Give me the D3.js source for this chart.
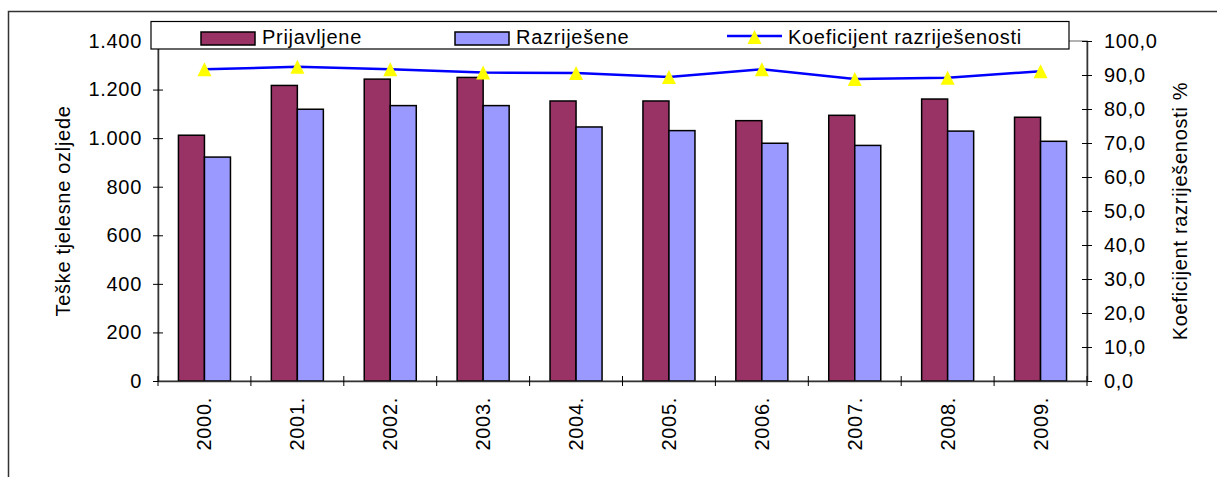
<!DOCTYPE html>
<html>
<head>
<meta charset="utf-8">
<script src="https://cdn.jsdelivr.net/npm/d3@7"></script>
<style>
    html, body { margin: 0; padding: 0; background: #fff; }
    .dc-chart text { font-family: Arial, "Liberation Sans", sans-serif; fill: #000; letter-spacing: 0.7px; }
</style>
</head>
<body>
<div id="chart" class="dc-chart"></div>
<script>
// podaci
const years = ["2000.", "2001.", "2002.", "2003.", "2004.", "2005.", "2006.", "2007.", "2008.", "2009."];
const prijavljene = [1012, 1217, 1243, 1250, 1153, 1153, 1072, 1094, 1161, 1086];
const razrijesene = [922, 1119, 1134, 1134, 1046, 1031, 979, 970, 1029, 987];
const koeficijent = [91.7, 92.4, 91.7, 90.7, 90.6, 89.4, 91.7, 88.8, 89.2, 91.1];
const leftTicks = [0, 200, 400, 600, 800, 1000, 1200, 1400];
const rightTicks = [0, 10, 20, 30, 40, 50, 60, 70, 80, 90, 100];
const seriesNames = ["Prijavljene", "Razriješene", "Koeficijent razriješenosti"];
const leftTitle = "Teške tjelesne ozljede";
const rightTitle = "Koeficijent razriješenosti %";

(function () {
    function DCBarLine(cf) {
        this.config = cf;
        this.width = cf.width;
        this.height = cf.height;
        this._init();
    }
    DCBarLine.prototype = {
        _init: function () {
            this.svg = d3.select(this.config.carrier).append("svg")
                .attr("width", this.width)
                .attr("height", this.height);
            this.locale = d3.formatLocale({ decimal: ",", thousands: ".", grouping: [3], currency: ["", ""] });
            this.plot = { left: 158, right: 1087, top: 41, bottom: 381 };
            this.drawFrame();
            this.drawBars();
            this.drawAxes();
            this.drawLine();
            this.drawLegend();
        },
        drawFrame: function () {
            // okvir grafikona je odrezan desno i dolje
            this.svg.append("rect")
                .attr("x", 8.5).attr("y", 11.5)
                .attr("width", 1300).attr("height", 600)
                .attr("fill", "none")
                .attr("stroke", "#333")
                .attr("stroke-width", 1.5);
            let p = this.plot;
            this.svg.append("rect")
                .attr("x", p.left).attr("y", p.top)
                .attr("width", p.right - p.left).attr("height", p.bottom - p.top)
                .attr("fill", "none")
                .attr("stroke", "#999")
                .attr("stroke-width", 1.5);
        },
        drawBars: function () {
            let p = this.plot;
            this.x = d3.scaleBand().domain(years).range([p.left, p.right]).padding(0);
            this.y = d3.scaleLinear().domain([0, 1400]).range([p.bottom, p.top]);
            this.yR = d3.scaleLinear().domain([0, 100]).range([p.bottom, p.top]);
            let groupW = this.x.bandwidth() * 0.56;
            this.xs = d3.scaleBand().domain([0, 1]).range([0, groupW]);
            let off = (this.x.bandwidth() - groupW) / 2;
            let colors = ["#993366", "#9999FF"];
            [prijavljene, razrijesene].forEach((values, s) => {
                this.svg.append("g").selectAll("rect")
                    .data(values)
                    .enter()
                    .append("rect")
                    .attr("x", (d, i) => this.x(years[i]) + off + this.xs(s))
                    .attr("y", d => this.y(d))
                    .attr("width", this.xs.bandwidth())
                    .attr("height", d => p.bottom - this.y(d))
                    .attr("fill", colors[s])
                    .attr("stroke", "#000")
                    .attr("stroke-width", 1.5);
            });
        },
        drawAxes: function () {
            let p = this.plot;
            let left = this.svg.append("g")
                .attr("transform", "translate(" + p.left + ",0)")
                .call(d3.axisLeft(this.y).tickValues(leftTicks).tickSize(5).tickSizeOuter(0).tickPadding(11)
                    .tickFormat(this.locale.format(",")));
            left.selectAll(".tick line").attr("x1", 5);
            let right = this.svg.append("g")
                .attr("transform", "translate(" + p.right + ",0)")
                .call(d3.axisRight(this.yR).tickValues(rightTicks).tickSize(5).tickSizeOuter(0).tickPadding(12)
                    .tickFormat(this.locale.format(",.1f")));
            right.selectAll(".tick line").attr("x1", -5);
            let bottom = this.svg.append("g")
                .attr("transform", "translate(0," + p.bottom + ")")
                .call(d3.axisBottom(this.x).tickSize(0).tickSizeOuter(0));
            bottom.selectAll(".tick text")
                .attr("transform", "rotate(-90)")
                .attr("text-anchor", "end")
                .attr("x", -16)
                .attr("y", 0)
                .attr("dy", "0.35em");
            // granice kategorija
            let bounds = years.map(d => this.x(d)).concat([p.right]);
            bottom.selectAll(".bound")
                .data(bounds)
                .enter()
                .append("line")
                .attr("class", "bound")
                .attr("x1", d => d).attr("x2", d => d)
                .attr("y1", -5).attr("y2", 5)
                .attr("stroke", "#000");
            [left, right, bottom].forEach(g => {
                g.selectAll("text").style("font-size", "20px").attr("fill", "#000");
                g.select(".domain").attr("stroke", "#333").attr("stroke-width", 1.5);
                g.selectAll(".tick line").attr("stroke", "#000");
            });
            this.svg.append("text")
                .attr("transform", "translate(70," + ((p.top + p.bottom) / 2) + ") rotate(-90)")
                .attr("text-anchor", "middle")
                .style("font-size", "20px")
                .text(leftTitle);
            this.svg.append("text")
                .attr("transform", "translate(1187," + ((p.top + p.bottom) / 2) + ") rotate(-90)")
                .attr("text-anchor", "middle")
                .style("font-size", "20px")
                .text(rightTitle);
        },
        triangle: function (cx, cy) {
            return "M" + cx + "," + (cy - 7) + "L" + (cx + 7) + "," + (cy + 7) + "L" + (cx - 7) + "," + (cy + 7) + "Z";
        },
        drawLine: function () {
            let cx = d => this.x(d) + this.x.bandwidth() / 2;
            let line = d3.line()
                .x((d, i) => cx(years[i]))
                .y(d => this.yR(d));
            this.svg.append("path")
                .datum(koeficijent)
                .attr("d", line)
                .attr("fill", "none")
                .attr("stroke", "#0000FF")
                .attr("stroke-width", 2.5);
            this.svg.append("g").selectAll("path")
                .data(koeficijent)
                .enter()
                .append("path")
                .attr("d", (d, i) => this.triangle(cx(years[i]), this.yR(d)))
                .attr("fill", "#FFFF00");
        },
        drawLegend: function () {
            let g = this.svg.append("g");
            g.append("rect")
                .attr("x", 151).attr("y", 21.5)
                .attr("width", 918).attr("height", 27.5)
                .attr("fill", "#fff")
                .attr("stroke", "#000")
                .attr("stroke-width", 1.2);
            let items = [
                { x: 201, color: "#993366" },
                { x: 455, color: "#9999FF" }
            ];
            items.forEach((it, i) => {
                g.append("rect")
                    .attr("x", it.x).attr("y", 32)
                    .attr("width", 54).attr("height", 13)
                    .attr("fill", it.color)
                    .attr("stroke", "#000")
                    .attr("stroke-width", 1.5);
                g.append("text")
                    .attr("x", it.x + 61).attr("y", 44)
                    .style("font-size", "20px")
                    .text(seriesNames[i]);
            });
            g.append("line")
                .attr("x1", 727).attr("x2", 782)
                .attr("y1", 36).attr("y2", 36)
                .attr("stroke", "#0000FF")
                .attr("stroke-width", 2.5);
            g.append("path")
                .attr("d", this.triangle(754.5, 37))
                .attr("fill", "#FFFF00");
            g.append("text")
                .attr("x", 788).attr("y", 44)
                .style("font-size", "20px")
                .text(seriesNames[2]);
        }
    };
    window.DCBarLine = DCBarLine;
})();

new DCBarLine({ carrier: "#chart", width: 1217, height: 477 });
</script>
</body>
</html>
